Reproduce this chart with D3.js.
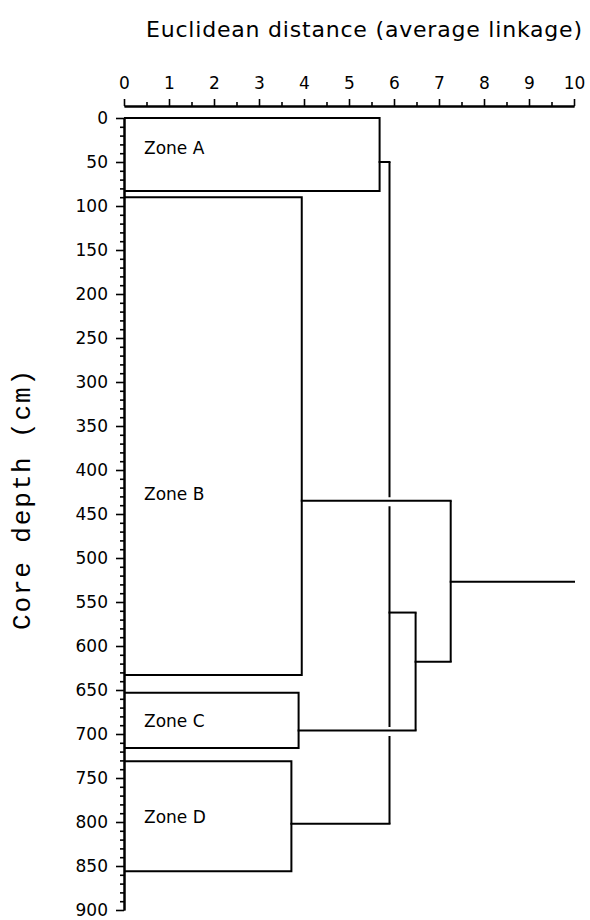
<!DOCTYPE html>
<html>
<head>
<meta charset="utf-8">
<script src="https://cdn.jsdelivr.net/npm/d3@7/dist/d3.min.js"></script>
<style>
  html, body { margin: 0; padding: 0; background: #fff; }
  svg { display: block; }
</style>
</head>
<body>
<svg id="chart" width="590" height="920"></svg>
<script>
// Stratigraphic zones of the core (depths in cm) and the linkage distance
// at which each zone's block is closed.
const zoneNames = ["Zone A", "Zone B", "Zone C", "Zone D"];
const zoneTop = [0, 90, 653, 731];
const zoneBottom = [83, 633, 716, 856];
const zoneHeight = [5.68, 3.95, 3.88, 3.72];
const zoneJoinDepth = [50, 435, 696, 802];
const zoneLabelDepth = [34, 427, 685, 794];

// Agglomeration steps of the dendrogram (average linkage).
const mergeNames = ["AD", "ADC", "ADCB"];
const mergeLeft = ["Zone A", "AD", "ADC"];
const mergeRight = ["Zone D", "Zone C", "Zone B"];
const mergeHeight = [5.9, 6.48, 7.26];
const mergeJoinDepth = [562, 618, 527];
const rootEnd = 10;

// Axis ticks
const distTicks = [0, 1, 2, 3, 4, 5, 6, 7, 8, 9, 10];
const distMinorTicks = [0.5, 1.5, 2.5, 3.5, 4.5, 5.5, 6.5, 7.5, 8.5, 9.5];
const depthTicks = [0, 50, 100, 150, 200, 250, 300, 350, 400, 450,
                    500, 550, 600, 650, 700, 750, 800, 850, 900];

const titleText = "Euclidean distance (average linkage)";
const yTitleText = "Core depth (cm)";

const svg = d3.select("#chart");
const x = d3.scaleLinear().domain([0, 10]).range([124, 574]);
const y = d3.scaleLinear().domain([0, 900]).range([118, 910]);

const numFont = "'DejaVu Sans', Verdana, sans-serif";

// ---- top axis (distance) ----
const axisY = 106;
const gx = svg.append("g").attr("transform", `translate(0,${axisY})`);
gx.call(d3.axisTop(x).tickValues(distTicks).tickSize(7).tickSizeOuter(0)
  .tickPadding(10).tickFormat(d3.format("d")));
gx.append("g").call(d3.axisTop(x).tickValues(distMinorTicks).tickSize(4)
  .tickSizeOuter(0).tickFormat(""));
gx.selectAll("path.domain").attr("stroke", "#000").attr("stroke-width", 2);
gx.selectAll(".tick line").attr("stroke", "#000").attr("stroke-width", 1.6);
gx.selectAll(".tick text").attr("font-family", numFont).attr("font-size", 17)
  .attr("fill", "#000");

svg.append("text")
  .attr("x", 364).attr("y", 37)
  .attr("text-anchor", "middle")
  .attr("font-family", numFont).attr("font-size", 22)
  .attr("textLength", 436).attr("lengthAdjust", "spacing")
  .text(titleText);

// ---- left axis (depth) ----
const gy = svg.append("g").attr("transform", `translate(${x(0)},0)`);
gy.call(d3.axisLeft(y).tickValues(depthTicks).tickSize(8).tickSizeOuter(0)
  .tickPadding(8).tickFormat(d3.format("d")));
gy.append("g").call(d3.axisLeft(y).tickValues(d3.range(0, 901, 10)
  .filter(d => d % 50 !== 0)).tickSize(4).tickSizeOuter(0).tickFormat(""));
gy.selectAll("path.domain").attr("stroke", "#000").attr("stroke-width", 2);
gy.selectAll(".tick line").attr("stroke", "#000").attr("stroke-width", 1.6);
gy.selectAll(".tick text").attr("font-family", numFont).attr("font-size", 17)
  .attr("fill", "#000");

svg.append("text")
  .attr("transform", `translate(30,${(y(0) + y(900)) / 2 - 14}) rotate(-90)`)
  .attr("text-anchor", "middle")
  .attr("font-family", "'Liberation Mono', 'Courier New', monospace")
  .attr("font-size", 26)
  .attr("textLength", 260).attr("lengthAdjust", "spacing")
  .text(yTitleText);

// ---- zone blocks ----
const zones = zoneNames.map((name, i) => ({
  name, top: zoneTop[i], bottom: zoneBottom[i],
  height: zoneHeight[i], depth: zoneJoinDepth[i], labelDepth: zoneLabelDepth[i]
}));

svg.append("g").selectAll("path").data(zones).join("path")
  .attr("d", d => `M${x(0)},${y(d.top)}H${x(d.height)}V${y(d.bottom)}H${x(0)}`)
  .attr("fill", "none").attr("stroke", "#000").attr("stroke-width", 2);

svg.append("g").selectAll("text").data(zones).join("text")
  .attr("x", x(0) + 20).attr("y", d => y(d.labelDepth))
  .attr("dy", "0.35em")
  .attr("font-family", numFont).attr("font-size", 17).attr("fill", "#000")
  .text(d => d.name);

// ---- dendrogram ----
const nodes = new Map(zones.map(z => [z.name, { height: z.height, depth: z.depth }]));
const verticals = [];
const horizontals = [];
mergeNames.forEach((name, i) => {
  const a = nodes.get(mergeLeft[i]);
  const b = nodes.get(mergeRight[i]);
  const h = mergeHeight[i];
  verticals.push({ x: h, y0: Math.min(a.depth, b.depth), y1: Math.max(a.depth, b.depth) });
  horizontals.push({ x0: a.height, x1: h, y: a.depth });
  horizontals.push({ x0: b.height, x1: h, y: b.depth });
  nodes.set(name, { height: h, depth: mergeJoinDepth[i] });
});
const root = nodes.get(mergeNames[mergeNames.length - 1]);
horizontals.push({ x0: root.height, x1: rootEnd, y: root.depth });

const dg = svg.append("g");
dg.selectAll("line.v").data(verticals).join("line").attr("class", "v")
  .attr("x1", d => x(d.x)).attr("x2", d => x(d.x))
  .attr("y1", d => y(d.y0)).attr("y2", d => y(d.y1))
  .attr("stroke", "#000").attr("stroke-width", 2);

// white gap where a branch passes over another vertical line
dg.selectAll("line.gap").data(horizontals).join("line").attr("class", "gap")
  .attr("x1", d => x(d.x0) + 5).attr("x2", d => x(d.x1) - 5)
  .attr("y1", d => y(d.y) + 1).attr("y2", d => y(d.y) + 1)
  .attr("stroke", "#fff").attr("stroke-width", 9);

dg.selectAll("line.h").data(horizontals).join("line").attr("class", "h")
  .attr("x1", d => x(d.x0)).attr("x2", d => x(d.x1))
  .attr("y1", d => y(d.y)).attr("y2", d => y(d.y))
  .attr("stroke", "#000").attr("stroke-width", 2)
  .attr("stroke-linecap", "square");
</script>
</body>
</html>
